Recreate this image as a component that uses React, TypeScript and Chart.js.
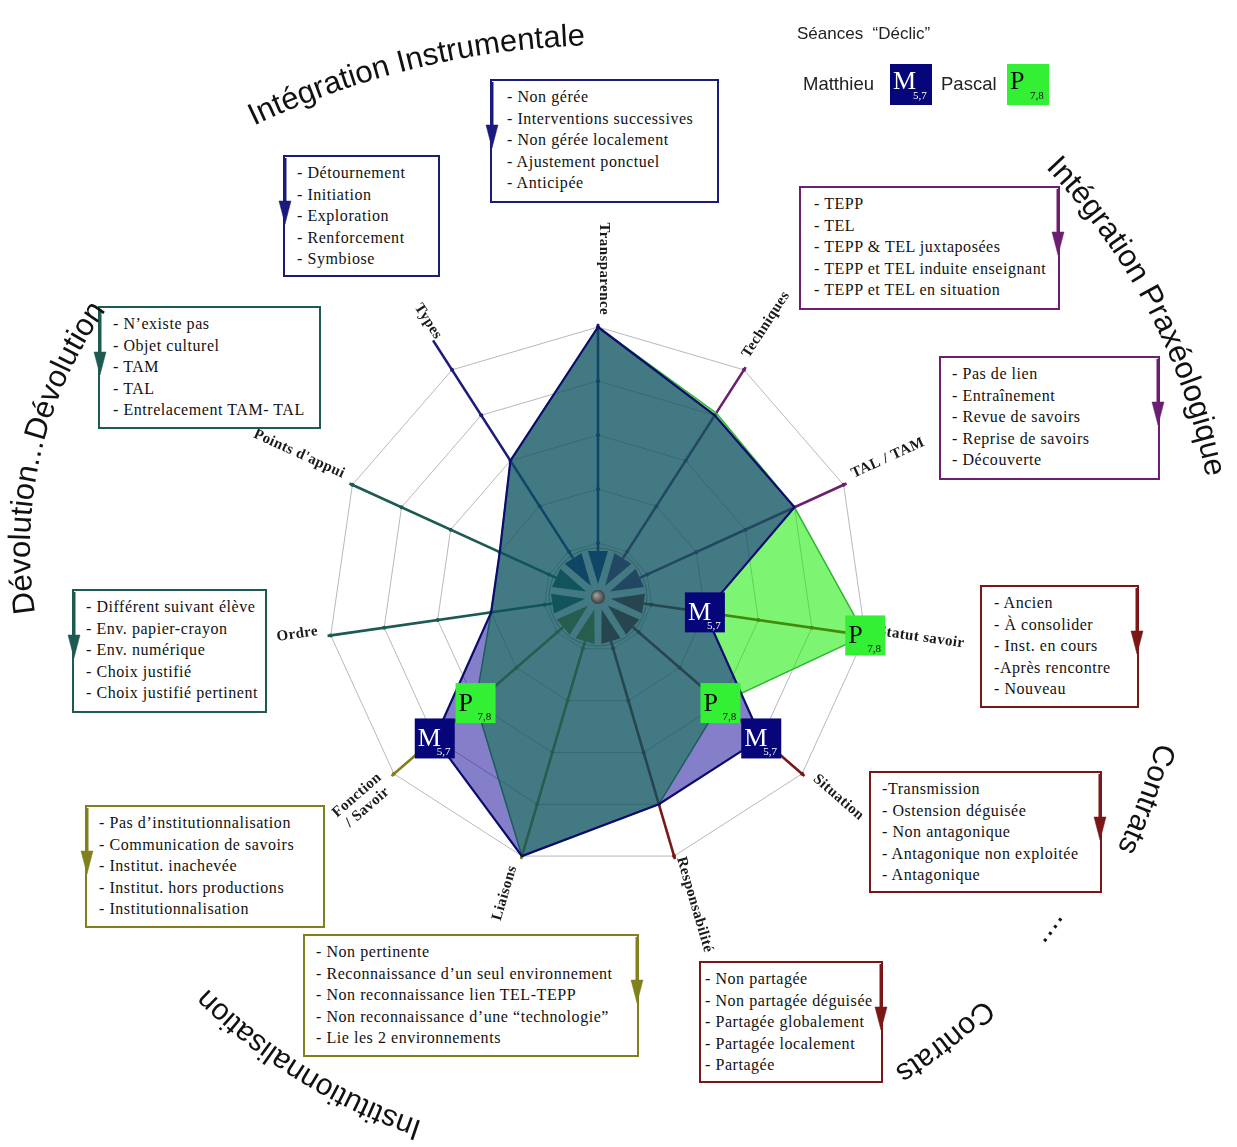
import React, { useEffect, useRef } from 'react';
import { Chart, registerables } from 'chart.js';

Chart.register(...registerables);

// ---------- data ----------
const AXES: (string | string[])[] = [
  'Transparence', 'Techniques', 'TAL / TAM', 'Statut savoir', 'Situation', 'Responsabilité',
  'Liaisons', ['Fonction', '/ Savoir'], 'Ordre', "Points d'appui", 'Types',
];
const MATTHIEU = [5, 4, 4, 2, 4, 4, 5, 4, 2, 2, 3];
const PASCAL = [5, 4.05, 4, 5, 3, 4, 5, 3, 2, 2, 3];
const MATTHIEU_MARKED = [3, 4, 7];
const PASCAL_MARKED = [3, 4, 7];
const SCALE_MIN = 0;
const SCALE_MAX = 5;
const SCALE_STEP = 1;

const TRANSPARENCE_LEVELS = ['- Non gérée', '- Interventions successives', '- Non gérée localement', '- Ajustement ponctuel', '- Anticipée'];
const TYPES_LEVELS = ['- Détournement', '- Initiation', '- Exploration', '- Renforcement', '- Symbiose'];
const TECHNIQUES_LEVELS = ['- TEPP', '- TEL', '- TEPP & TEL juxtaposées', '- TEPP et TEL induite enseignant', '- TEPP et TEL en situation'];
const TALTAM_LEVELS = ['- Pas de lien', '- Entraînement', '- Revue de savoirs', '- Reprise de savoirs', '- Découverte'];
const STATUT_LEVELS = ['- Ancien', '- À consolider', '- Inst. en cours', '-Après rencontre', '- Nouveau'];
const SITUATION_LEVELS = ['-Transmission', '- Ostension déguisée', '- Non antagonique', '- Antagonique non exploitée', '- Antagonique'];
const RESPONSABILITE_LEVELS = ['- Non partagée', '- Non partagée déguisée', '- Partagée globalement', '- Partagée localement', '- Partagée'];
const LIAISONS_LEVELS = ['- Non pertinente', '- Reconnaissance d\u2019un seul environnement', '- Non reconnaissance lien TEL-TEPP', '- Non reconnaissance d\u2019une \u201ctechnologie\u201d', '- Lie les 2 environnements'];
const FONCTION_LEVELS = ['- Pas d\u2019institutionnalisation', '- Communication de savoirs', '- Institut. inachevée', '- Institut. hors productions', '- Institutionnalisation'];
const ORDRE_LEVELS = ['- Différent suivant élève', '- Env. papier-crayon', '- Env. numérique', '- Choix justifié', '- Choix justifié pertinent'];
const APPUI_LEVELS = ['- N\u2019existe pas', '- Objet culturel', '- TAM', '- TAL', '- Entrelacement TAM- TAL'];

// ---------- styles ----------
const NAVY = '#1b1b7c';
const PURPLE = '#6c1f70';
const RED = '#7a1717';
const OLIVE = '#80801c';
const TEAL = '#1d5a52';
const AXIS_COLORS = [NAVY, PURPLE, PURPLE, RED, RED, RED, OLIVE, OLIVE, TEAL, TEAL, NAVY];
const M_BOX = '#06067a';
const P_BOX = '#34f034';
const SERIF = '"Liberation Serif", "DejaVu Serif", serif';
const SANS = '"Liberation Sans", Arial, sans-serif';

const BOXES = [
  { lines: TRANSPARENCE_LEVELS, x: 490, y: 79, w: 229, h: 124, color: NAVY, side: 'left', pad: 15 },
  { lines: TYPES_LEVELS, x: 283, y: 155, w: 157, h: 122, color: NAVY, side: 'left', pad: 12 },
  { lines: TECHNIQUES_LEVELS, x: 799, y: 186, w: 261, h: 124, color: PURPLE, side: 'right', pad: 13 },
  { lines: TALTAM_LEVELS, x: 939, y: 356, w: 221, h: 124, color: PURPLE, side: 'right', pad: 11 },
  { lines: STATUT_LEVELS, x: 980, y: 585, w: 159, h: 123, color: RED, side: 'right', pad: 12 },
  { lines: SITUATION_LEVELS, x: 869, y: 771, w: 233, h: 122, color: RED, side: 'right', pad: 11 },
  { lines: RESPONSABILITE_LEVELS, x: 699, y: 961, w: 184, h: 122, color: RED, side: 'right', pad: 4 },
  { lines: LIAISONS_LEVELS, x: 303, y: 934, w: 336, h: 123, color: OLIVE, side: 'right', pad: 11 },
  { lines: FONCTION_LEVELS, x: 85, y: 805, w: 240, h: 123, color: OLIVE, side: 'left', pad: 12 },
  { lines: ORDRE_LEVELS, x: 72, y: 589, w: 195, h: 124, color: TEAL, side: 'left', pad: 12 },
  { lines: APPUI_LEVELS, x: 98, y: 306, w: 223, h: 123, color: TEAL, side: 'left', pad: 13 },
];

const TITLES = [
  { text: 'Intégration Instrumentale', cx: 611, cy: 874, r: 829, a1: -115.5, a2: -84, size: 31 },
  { text: 'Intégration Praxéologique', cx: 598, cy: 597, r: 620, a1: -43.8, a2: -3, size: 31 },
  { text: 'Dévolution...Dévolution', cx: 440, cy: 548, r: 410, a1: 170.9, a2: 226, size: 31 },
  { text: 'Contrats', cx: 598, cy: 597, r: 577, a1: 14.6, a2: 32, size: 30 },
  { text: '....', cx: 598, cy: 597, r: 562, a1: 34.5, a2: 42, size: 30 },
  { text: 'Contrats', cx: 598, cy: 597, r: 557, a1: 46.2, a2: 64, size: 30 },
  { text: 'Institutionnalisation', cx: 598, cy: 597, r: 553, a1: 108.5, a2: 142, size: 30 },
];

function arcPath(cx: number, cy: number, r: number, a1: number, a2: number) {
  const t1 = (a1 * Math.PI) / 180;
  const t2 = (a2 * Math.PI) / 180;
  const x1 = cx + r * Math.cos(t1), y1 = cy + r * Math.sin(t1);
  const x2 = cx + r * Math.cos(t2), y2 = cy + r * Math.sin(t2);
  const large = Math.abs(a2 - a1) > 180 ? 1 : 0;
  return `M ${x1.toFixed(2)} ${y1.toFixed(2)} A ${r} ${r} 0 ${large} 1 ${x2.toFixed(2)} ${y2.toFixed(2)}`;
}

function drawBadge(ctx: CanvasRenderingContext2D, cx: number, cy: number, letter: string, sub: string, bg: string, fg: string) {
  const s = 40;
  const l = cx - s / 2, t = cy - s / 2;
  ctx.save();
  ctx.fillStyle = bg;
  ctx.fillRect(l, t, s, s);
  ctx.fillStyle = fg;
  ctx.textAlign = 'left';
  ctx.textBaseline = 'alphabetic';
  ctx.font = `26px ${SERIF}`;
  ctx.fillText(letter, l + 3, t + 28);
  ctx.font = `11px ${SERIF}`;
  ctx.fillText(sub, l + 22, t + 37);
  ctx.restore();
}

const radarDecor = {
  id: 'radarDecor',
  beforeDatasetsDraw(chart: any) {
    const s = chart.scales.r;
    const ctx: CanvasRenderingContext2D = chart.ctx;
    const n = chart.data.labels.length;
    ctx.save();
    for (let i = 0; i < n; i++) {
      const ext = i === 10 ? 5.65 : 5.06;
      const p0 = s.getPointPositionForValue(i, 0.85);
      const p1 = s.getPointPositionForValue(i, ext);
      ctx.strokeStyle = AXIS_COLORS[i];
      ctx.lineWidth = 2.6;
      ctx.beginPath();
      ctx.moveTo(p0.x, p0.y);
      ctx.lineTo(p1.x, p1.y);
      ctx.stroke();
      for (let v = 1; v <= 5; v++) {
        const q = s.getPointPositionForValue(i, v);
        ctx.fillStyle = AXIS_COLORS[i];
        ctx.beginPath();
        ctx.arc(q.x, q.y, 2, 0, Math.PI * 2);
        ctx.fill();
      }
      const tip = s.getPointPosition(i, 13);
      const base = s.getPointPosition(i, 46);
      const a = base.angle;
      const px = -Math.sin(a) * 10, py = Math.cos(a) * 10;
      ctx.fillStyle = AXIS_COLORS[i];
      ctx.beginPath();
      ctx.moveTo(tip.x, tip.y);
      ctx.lineTo(base.x + px, base.y + py);
      ctx.lineTo(base.x - px, base.y - py);
      ctx.closePath();
      ctx.fill();
    }
    ctx.font = `bold 15px ${SERIF}`;
    (ctx as any).letterSpacing = '0.4px';
    ctx.fillStyle = '#1a1a1a';
    ctx.textAlign = 'center';
    ctx.textBaseline = 'middle';
    for (let i = 0; i < n; i++) {
      const lab = chart.data.labels[i];
      const lines: string[] = Array.isArray(lab) ? lab : [lab];
      const w = Math.max(...lines.map((l) => ctx.measureText(l).width));
      const off = i === 10 ? 34 : i === 5 ? 3 : 12;
      const pos = s.getPointPosition(i, s.drawingArea + off + w / 2);
      let ang = pos.angle;
      if (Math.cos(ang) < 0.01) ang += Math.PI;
      ctx.save();
      ctx.translate(pos.x, pos.y);
      ctx.rotate(ang);
      const lh = 16;
      const lift = lines.length > 1 ? 0 : -6;
      lines.forEach((l, k) => ctx.fillText(l, 0, lift + (k - (lines.length - 1) / 2) * lh));
      ctx.restore();
    }
    (ctx as any).letterSpacing = '0px';
    ctx.restore();
  },
  afterDatasetsDraw(chart: any) {
    const s = chart.scales.r;
    const ctx: CanvasRenderingContext2D = chart.ctx;
    const cx = s.xCenter, cy = s.yCenter;
    ctx.save();
    ctx.beginPath();
    ctx.arc(cx, cy, 49, 0, Math.PI * 2);
    ctx.strokeStyle = 'rgba(30,70,70,0.45)';
    ctx.lineWidth = 1;
    ctx.stroke();
    const g = ctx.createRadialGradient(cx - 2, cy - 2, 1, cx, cy, 7);
    g.addColorStop(0, '#9a9a9a');
    g.addColorStop(1, '#3c3c3c');
    ctx.fillStyle = g;
    ctx.beginPath();
    ctx.arc(cx, cy, 7, 0, Math.PI * 2);
    ctx.fill();
    const mMeta = chart.getDatasetMeta(0);
    const pMeta = chart.getDatasetMeta(1);
    PASCAL_MARKED.forEach((i) => {
      const el = pMeta.data[i];
      drawBadge(ctx, el.x, el.y, 'P', '7,8', P_BOX, '#0a0a0a');
    });
    MATTHIEU_MARKED.forEach((i) => {
      const el = mMeta.data[i];
      drawBadge(ctx, el.x, el.y, 'M', '5,7', M_BOX, '#ffffff');
    });
    ctx.restore();
  },
};

function Badge({ x, y, letter, sub, bg, fg }: any) {
  return (
    <div style={{ position: 'absolute', left: x, top: y, width: 42, height: 41, background: bg, color: fg, fontFamily: SERIF }}>
      <span style={{ position: 'absolute', left: 3, top: 2, fontSize: 26, lineHeight: '30px' }}>{letter}</span>
      <span style={{ position: 'absolute', left: 23, top: 25, fontSize: 11, lineHeight: '13px' }}>{sub}</span>
    </div>
  );
}

export default function App() {
  const ref = useRef<HTMLCanvasElement | null>(null);

  useEffect(() => {
    if (!ref.current) return;
    const chart = new Chart(ref.current, {
      type: 'radar',
      data: {
        labels: AXES as any,
        datasets: [
          {
            label: 'Matthieu',
            data: MATTHIEU,
            backgroundColor: 'rgba(10,0,145,0.5)',
            borderColor: '#0c0c6e',
            borderWidth: 2.2,
            pointRadius: 0,
            fill: true,
          },
          {
            label: 'Pascal',
            data: PASCAL,
            backgroundColor: 'rgba(20,235,0,0.55)',
            borderColor: '#2fb82f',
            borderWidth: 1.5,
            pointRadius: 0,
            fill: true,
          },
        ],
      },
      options: {
        responsive: false,
        animation: false,
        layout: { padding: { left: 328, right: 369, top: 327, bottom: 280 } },
        elements: { line: { tension: 0 } },
        plugins: { legend: { display: false }, tooltip: { enabled: false } },
        scales: {
          r: {
            min: SCALE_MIN,
            max: SCALE_MAX,
            ticks: { stepSize: SCALE_STEP, display: false },
            grid: { color: '#a6a6a6', lineWidth: 0.8, circular: false },
            angleLines: { display: false },
            pointLabels: { display: false },
          },
        },
      } as any,
      plugins: [radarDecor as any],
    });
    return () => chart.destroy();
  }, []);

  return (
    <div style={{ position: 'absolute', left: 0, top: 0, width: 1237, height: 1147, background: '#fff', overflow: 'hidden' }}>
      <canvas ref={ref} width={1237} height={1147} style={{ position: 'absolute', left: 0, top: 0 }} />
      {BOXES.map((b, k) => (
        <div
          key={k}
          style={{
            position: 'absolute', left: b.x, top: b.y, width: b.w, height: b.h, boxSizing: 'border-box',
            border: `2px solid ${b.color}`, background: '#fff', fontFamily: SERIF, fontSize: 16,
            lineHeight: '21.6px', paddingTop: 5, paddingLeft: b.pad, color: '#111', whiteSpace: 'nowrap',
            letterSpacing: '0.55px',
          }}
        >
          {b.lines.map((l, i) => (
            <div key={i}>{l}</div>
          ))}
        </div>
      ))}
      <svg width={1237} height={1147} style={{ position: 'absolute', left: 0, top: 0, pointerEvents: 'none' }}>
        {BOXES.map((b, k) => {
          const ax = b.side === 'left' ? b.x + 2 : b.x + b.w - 2;
          return (
            <g key={k} fill={b.color} stroke={b.color}>
              <line x1={ax} y1={b.y + 3} x2={ax} y2={b.y + 52} strokeWidth={3} />
              <polygon points={`${ax - 6},${b.y + 46} ${ax + 6},${b.y + 46} ${ax},${b.y + 69}`} strokeWidth={0.5} />
            </g>
          );
        })}
        <defs>
          {TITLES.map((t, k) => (
            <path key={k} id={`tp${k}`} d={arcPath(t.cx, t.cy, t.r, t.a1, t.a2)} fill="none" />
          ))}
        </defs>
        {TITLES.map((t, k) => (
          <text key={k} fontFamily={SANS} fontSize={t.size} fill="#111">
            <textPath href={`#tp${k}`} startOffset="0">{t.text}</textPath>
          </text>
        ))}
      </svg>
      <div style={{ position: 'absolute', left: 797, top: 24, fontFamily: SANS, fontSize: 17, color: '#222', whiteSpace: 'pre' }}>
        {'Séances  \u201cDéclic\u201d'}
      </div>
      <div style={{ position: 'absolute', left: 803, top: 73, fontFamily: SANS, fontSize: 18.5, color: '#222' }}>Matthieu</div>
      <Badge x={890} y={64} letter="M" sub="5,7" bg={M_BOX} fg="#fff" />
      <div style={{ position: 'absolute', left: 941, top: 73, fontFamily: SANS, fontSize: 18.5, color: '#222' }}>Pascal</div>
      <Badge x={1007} y={64} letter="P" sub="7,8" bg={P_BOX} fg="#0a0a0a" />
    </div>
  );
}
